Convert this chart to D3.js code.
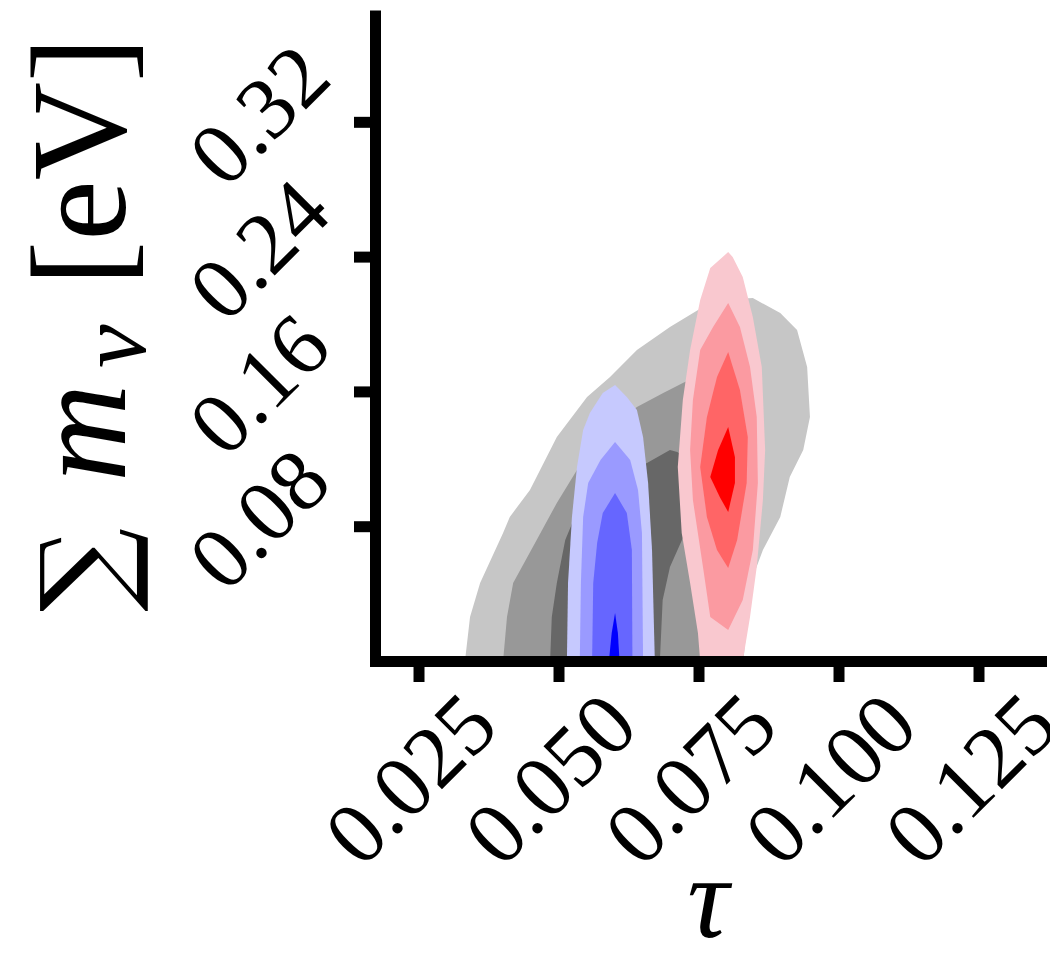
<!DOCTYPE html>
<html>
<head>
<meta charset="utf-8">
<script src="https://cdn.jsdelivr.net/npm/d3@7"></script>
<style>
  html, body { margin: 0; padding: 0; background: #fff; }
  svg { display: block; }
</style>
</head>
<body>
<svg id="chart" width="1050" height="963"></svg>
<script>
// ---------- data (tau, sum m_nu) ----------
const xTicks = [0.025, 0.050, 0.075, 0.100, 0.125];
const xTickLabels = ["0.025", "0.050", "0.075", "0.100", "0.125"];
const yTicks = [0.08, 0.16, 0.24, 0.32];
const yTickLabels = ["0.08", "0.16", "0.24", "0.32"];

// gray (combined) contours, outer -> inner
const grayOuter = [[0.0333,0],[0.0342,0.0261],[0.0360,0.0463],[0.0401,0.0760],[0.0413,0.0855],[0.0449,0.1015],[0.0497,0.1329],[0.0551,0.1567],[0.0592,0.1685],[0.0640,0.1846],[0.0699,0.1982],[0.0758,0.2101],[0.0788,0.2142],[0.0847,0.2154],[0.0896,0.2065],[0.0926,0.1964],[0.0944,0.1745],[0.0949,0.1448],[0.0937,0.1252],[0.0913,0.1092],[0.0896,0.0855],[0.0865,0.0659],[0.0847,0.0499],[0.0838,0.0261],[0.0830,0]];
const grayMid = [[0.0401,0],[0.0408,0.0261],[0.0419,0.0463],[0.0461,0.0718],[0.0497,0.0938],[0.0533,0.1134],[0.0579,0.1353],[0.0640,0.1507],[0.0687,0.1591],[0.0722,0.1650],[0.0771,0.1727],[0.0815,0.1715],[0.0842,0.1549],[0.0846,0.1252],[0.0838,0.0837],[0.0828,0.0421],[0.0820,0]];
const grayInner = [[0.0485,0],[0.0488,0.0261],[0.0497,0.0463],[0.0512,0.0718],[0.0538,0.0926],[0.0583,0.1074],[0.0658,0.1175],[0.0699,0.1252],[0.0712,0.1240],[0.0735,0.1193],[0.0738,0.0955],[0.0726,0.0760],[0.0699,0.0558],[0.0686,0.0362],[0.0681,0]];

// blue contours, outer -> inner
const blue1 = [[0.0515,0],[0.0517,0.0463],[0.0524,0.0855],[0.0533,0.1151],[0.0544,0.1371],[0.0556,0.1472],[0.0579,0.1590],[0.0601,0.1638],[0.0622,0.1567],[0.0640,0.1490],[0.0651,0.1329],[0.0660,0.1056],[0.0667,0.0659],[0.0672,0]];
const blue2 = [[0.0538,0],[0.0540,0.0463],[0.0544,0.0855],[0.0553,0.1056],[0.0575,0.1193],[0.0601,0.1300],[0.0628,0.1193],[0.0642,0.1015],[0.0649,0.0760],[0.0651,0]];
const blue3 = [[0.0560,0],[0.0562,0.0463],[0.0569,0.0700],[0.0579,0.0878],[0.0601,0.0997],[0.0622,0.0878],[0.0631,0.0659],[0.0632,0]];
const blue4 = [[0.0590,0],[0.0595,0.0166],[0.0601,0.0285],[0.0606,0.0166],[0.0609,0]];

// red contours, outer -> inner
const red1 = [[0.0753,0],[0.0749,0.0166],[0.0735,0.0463],[0.0720,0.0760],[0.0713,0.1151],[0.0722,0.1549],[0.0735,0.1846],[0.0753,0.2142],[0.0771,0.2332],[0.0803,0.2427],[0.0811,0.2398],[0.0829,0.2279],[0.0847,0.2042],[0.0863,0.1745],[0.0869,0.1252],[0.0865,0.0955],[0.0854,0.0558],[0.0842,0.0261],[0.0829,0]];
const red2 = [[0.0803,0.0184],[0.0771,0.0261],[0.0758,0.0558],[0.0740,0.0955],[0.0735,0.1252],[0.0740,0.1549],[0.0753,0.1846],[0.0776,0.1982],[0.0803,0.2125],[0.0824,0.1982],[0.0842,0.1745],[0.0854,0.1448],[0.0856,0.1056],[0.0847,0.0659],[0.0829,0.0362]];
const red3 = [[0.0803,0.0552],[0.0783,0.0659],[0.0765,0.0855],[0.0753,0.1151],[0.0765,0.1448],[0.0783,0.1685],[0.0803,0.1834],[0.0824,0.1608],[0.0838,0.1329],[0.0836,0.1056],[0.0819,0.0718]];
const red4 = [[0.0803,0.0884],[0.0788,0.0973],[0.0771,0.1092],[0.0785,0.1252],[0.0803,0.1389],[0.0815,0.1211],[0.0815,0.1056]];

const layers = [
  {pts: grayOuter, color: "#c6c6c6"},
  {pts: grayMid,   color: "#989898"},
  {pts: grayInner, color: "#676767"},
  {pts: blue1, color: "#c6c9fe"},
  {pts: blue2, color: "#9a9aff"},
  {pts: blue3, color: "#6666ff"},
  {pts: blue4, color: "#0000ff"},
  {pts: red1, color: "#f9c8cf"},
  {pts: red2, color: "#fb9aa1"},
  {pts: red3, color: "#ff6566"},
  {pts: red4, color: "#ff0000"}
];

// ---------- layout ----------
const svg = d3.select("#chart");
const x = d3.scaleLinear().domain([0.01723, 0.13616]).range([375, 1041]);
const y = d3.scaleLinear().domain([0, 0.3831]).range([661, 15.5]);

svg.append("clipPath").attr("id", "plotclip")
  .append("rect").attr("x", 375).attr("y", 15.5).attr("width", 666).attr("height", 645.5);

const line = d3.line().x(d => x(d[0])).y(d => y(d[1])).curve(d3.curveLinearClosed);

svg.append("g").attr("clip-path", "url(#plotclip)")
  .selectAll("path").data(layers).join("path")
  .attr("d", d => line(d.pts))
  .attr("fill", d => d.color)
  .attr("stroke", "none");

// axes
const xAxis = d3.axisBottom(x).tickValues(xTicks).tickSize(21).tickSizeOuter(0).tickFormat("");
const yAxis = d3.axisLeft(y).tickValues(yTicks).tickSize(21).tickSizeOuter(0).tickFormat("");

const gx = svg.append("g").attr("transform", "translate(0,661)").call(xAxis);
const gy = svg.append("g").attr("transform", "translate(375,0)").call(yAxis);
[gx, gy].forEach(g => {
  g.select(".domain").attr("stroke", "#000").attr("stroke-width", 11).attr("stroke-linecap", "square");
  g.selectAll(".tick line").attr("stroke", "#000").attr("stroke-width", 11);
  g.selectAll(".tick text").remove();
});

const SERIF = '"Liberation Serif"';

// x tick labels
svg.append("g").selectAll("text").data(xTicks).join("text")
  .attr("transform", d => `translate(${x(d) - 8},779) rotate(-45)`)
  .attr("text-anchor", "middle")
  .attr("dominant-baseline", "central")
  .style("font-family", SERIF)
  .style("font-size", "88px")
  .attr("fill", "#000")
  .text((d, i) => xTickLabels[i]);

// y tick labels
svg.append("g").selectAll("text").data(yTicks).join("text")
  .attr("transform", d => `translate(259,${y(d) - 7}) rotate(-45)`)
  .attr("text-anchor", "middle")
  .attr("dominant-baseline", "central")
  .style("font-family", SERIF)
  .style("font-size", "88px")
  .attr("fill", "#000")
  .text((d, i) => yTickLabels[i]);

// x label
svg.append("text")
  .attr("x", 708).attr("y", 937)
  .attr("text-anchor", "middle")
  .style("font-family", SERIF)
  .style("font-style", "italic")
  .style("font-size", "116px")
  .attr("fill", "#000")
  .text("τ");

// y label (rotated)
const yl = svg.append("g").attr("transform", "translate(125,0) rotate(-90)");
yl.append("text").attr("x", -612).attr("y", 0)
  .style("font-family", '"DejaVu Serif"').style("font-size", "118px").attr("fill", "#000")
  .text("∑");
yl.append("text").attr("x", -482).attr("y", 0)
  .style("font-family", SERIF).style("font-style", "italic").style("font-size", "136px").attr("fill", "#000")
  .text("m");
yl.append("text").attr("x", -368).attr("y", 20)
  .style("font-family", SERIF).style("font-style", "italic").style("font-size", "98px").attr("fill", "#000")
  .text("ν");
yl.append("text").attr("x", -286).attr("y", 0)
  .style("font-family", SERIF).style("font-size", "136px").attr("fill", "#000")
  .text("[eV]");
</script>
</body>
</html>
